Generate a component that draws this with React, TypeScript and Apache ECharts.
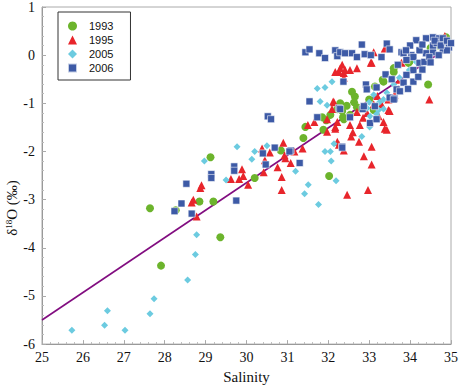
import React, { useEffect, useRef } from "react";
import * as echarts from "echarts";

const xTicks = [25, 26, 27, 28, 29, 30, 31, 32, 33, 34, 35];
const yTicks = [-6, -5, -4, -3, -2, -1, 0, 1];

const s1993: number[][] = [
  [27.64, -3.18], [28.27, -3.22], [28.85, -3.04], [29.19, -3.04], [29.36, -3.78], [27.91, -4.37],
  [29.12, -2.12], [30.2, -2.55], [30.84, -1.98], [31.39, -1.72], [31.44, -1.49], [31.88, -1.55],
  [31.85, -1.29], [32.05, -1.24], [32.29, -1.0], [32.02, -2.51], [32.38, -1.33], [32.58, -0.76],
  [32.65, -0.86], [32.34, -1.16], [32.22, -1.12], [32.63, -0.98], [32.7, -1.08], [32.53, -1.24],
  [32.36, -1.29], [33.0, -0.92], [33.14, -0.65], [33.96, -0.16], [33.35, -0.55], [33.6, -0.35],
  [34.44, -0.61], [33.11, -1.14], [34.88, 0.37], [34.83, 0.33], [33.33, -0.51], [33.6, -0.27],
  [33.98, -0.14], [32.45, -1.05], [31.95, -1.35], [34.9, 0.3], [34.7, 0.2], [34.5, 0.15],
];

const s1995: number[][] = [
  [28.87, -2.76], [28.9, -2.7], [28.66, -3.06], [28.7, -3.0], [28.78, -3.35], [29.62, -2.57],
  [29.82, -2.57], [29.89, -2.37], [29.92, -2.51], [30.04, -2.69], [30.42, -2.43], [30.45, -2.18],
  [30.38, -1.94], [30.57, -2.02], [30.76, -2.33], [30.86, -2.53], [30.86, -2.8], [30.9, -1.82],
  [30.93, -2.08], [30.95, -2.14], [31.08, -2.24], [31.17, -2.0], [31.37, -1.94], [31.66, -1.39],
  [31.97, -1.33], [32.09, -1.12], [32.22, -1.39], [32.14, -0.98], [32.17, -1.49], [32.26, -0.35],
  [32.38, -0.37], [32.29, -0.27], [32.26, -1.86], [32.46, -2.9], [31.97, -1.59], [32.22, -1.8],
  [32.38, -1.98], [32.56, -1.69], [32.75, -1.8], [33.06, -1.9], [32.87, -2.1], [33.06, -2.27],
  [32.97, -2.8], [33.43, -1.55], [33.11, 0.06], [32.34, -0.2], [32.41, -0.31], [32.7, -0.27],
  [33.06, -0.16], [33.38, 0.14], [34.47, -0.92], [33.47, -1.14], [33.35, -1.39], [33.38, -1.53],
  [33.04, -0.16], [33.79, -0.16], [33.5, -1.16], [33.72, -0.71], [33.74, -0.51], [33.62, -0.82],
  [33.47, -0.92], [33.23, -1.27], [33.11, -1.02], [33.3, -1.02], [32.17, -0.35], [32.53, -0.31],
  [32.38, -0.47], [32.12, -0.96], [31.5, -1.45], [32.77, -1.45], [32.7, -1.18], [32.53, -1.45],
  [32.6, -1.6], [32.85, -1.3], [33.2, -0.85], [32.95, -1.2], [32.17, -1.53], [34.85, 0.4],
];

const s2005: number[][] = [
  [25.73, -5.71], [26.53, -5.61], [26.6, -5.31], [27.03, -5.71], [27.64, -5.37], [27.74, -5.06],
  [28.56, -4.67], [28.75, -4.14], [28.78, -3.73], [28.97, -2.2], [29.5, -2.59], [29.77, -1.9],
  [30.13, -2.16], [30.2, -2.0], [30.5, -1.88], [31.2, -2.41], [31.51, -2.69], [31.42, -2.88],
  [31.76, -3.1], [31.73, -0.69], [31.92, -0.67], [31.8, -0.96], [31.97, -1.04], [32.09, -0.55],
  [31.92, -2.0], [32.05, -2.0], [32.07, -2.2], [32.19, -2.61], [32.14, -1.84], [32.82, -1.69],
  [33.0, -0.98], [33.23, -1.14], [33.18, -1.22], [33.35, -1.12], [33.01, -1.49], [33.11, -0.82],
  [33.25, -0.98], [33.02, -1.27], [33.43, -0.78], [33.6, -0.61], [33.74, -0.47], [33.98, -0.31],
  [34.15, -0.14], [33.35, -0.92], [32.95, -1.1],
];

const s2006: number[][] = [
  [31.44, 0.06], [31.54, 0.12], [31.78, 0.04], [31.92, -0.06], [32.17, 0.1], [32.22, -0.02],
  [32.29, 0.06], [32.41, 0.04], [32.58, 0.04], [32.7, -0.04], [32.82, 0.22], [32.89, 0.02],
  [33.04, 0.0], [33.3, -0.04], [33.43, 0.24], [33.5, 0.12], [33.79, 0.06], [34.03, 0.0],
  [32.37, -0.55], [32.92, -0.61], [32.94, -0.71], [33.18, -0.67], [31.54, -0.96], [32.26, -1.1],
  [32.84, -1.12], [32.53, -1.29], [31.73, -1.29], [30.52, -1.27], [30.6, -1.33], [33.02, -1.41],
  [32.87, -1.06], [33.5, -0.88], [33.62, -0.9], [32.29, -1.12], [32.34, -1.9], [31.08, -1.98],
  [31.3, -2.24], [30.69, -1.92], [30.4, -2.04], [30.47, -2.27], [31.05, -2.0], [29.7, -2.31],
  [29.7, -2.4], [29.14, -2.47], [29.14, -2.55], [28.53, -2.67], [28.41, -3.08], [28.24, -3.24],
  [28.66, -3.29], [29.75, -3.02], [32.34, -1.92],
  [33.84, 0.04], [34.15, 0.31], [34.39, 0.35], [34.56, 0.37], [34.71, 0.35], [34.88, 0.27],
  [34.95, 0.16], [34.8, 0.1], [34.56, 0.06], [34.39, 0.04], [34.23, 0.1], [34.08, -0.04],
  [34.23, -0.16], [34.08, -0.31], [33.91, -0.41], [33.84, -0.57], [33.67, -0.71], [33.6, -0.92],
  [33.14, -1.06], [33.18, -1.33], [34.35, -0.14], [34.56, 0.2], [34.47, -0.04], [33.91, -0.1],
  [34.08, -0.55], [33.75, -0.75], [33.95, -0.7], [34.0, 0.2], [34.3, 0.22], [34.65, 0.25],
  [34.8, 0.35], [34.9, 0.1], [34.7, 0.0], [34.5, -0.15], [34.3, -0.3], [34.2, -0.45],
  [33.9, 0.1], [33.7, -0.2], [33.4, -0.4], [33.55, -0.5], [34.6, 0.3], [34.75, 0.2],
  [34.9, 0.3], [35.0, 0.25],
];

const fitLine: number[][] = [[25, -5.5], [35, 0.2]];

const GREEN = "#6cb42c";
const RED = "#e8252b";
const CYAN = "#6ccbe0";
const BLUE = "#3d5aa6";

export default function App() {
  const ref = useRef<HTMLDivElement>(null);
  useEffect(() => {
    const chart = echarts.init(ref.current!, null, { renderer: "svg" });
    const serif = "Times New Roman";
    chart.setOption({
      animation: false,
      backgroundColor: "#fff",
      textStyle: { fontFamily: serif },
      grid: { left: 42, top: 6, width: 413, height: 343, show: true, borderColor: "#aaa", borderWidth: 1 },
      xAxis: {
        type: "value", min: xTicks[0], max: xTicks[xTicks.length - 1], interval: 1,
        name: "Salinity", nameLocation: "middle", nameGap: 22,
        nameTextStyle: { fontFamily: serif, fontSize: 15, color: "#111" },
        axisLine: { show: true, onZero: false, lineStyle: { color: "#999" } },
        axisTick: { show: true, inside: true, length: 4, lineStyle: { color: "#aaa" } },
        minorTick: { show: true, splitNumber: 5, length: 2, lineStyle: { color: "#bbb" } },
        splitLine: { show: false },
        axisLabel: { fontFamily: serif, fontSize: 14, color: "#111", margin: 6 },
      },
      yAxis: {
        type: "value", min: yTicks[0], max: yTicks[yTicks.length - 1], interval: 1,
        axisLine: { show: true, onZero: false, lineStyle: { color: "#999" } },
        axisTick: { show: true, inside: true, length: 4, lineStyle: { color: "#aaa" } },
        minorTick: { show: true, splitNumber: 5, length: 2, lineStyle: { color: "#bbb" } },
        splitLine: { show: false },
        axisLabel: { fontFamily: serif, fontSize: 14, color: "#111", margin: 7 },
      },
      legend: {
        orient: "vertical", left: 58, top: 12,
        borderColor: "#333", borderWidth: 1, backgroundColor: "#fff",
        padding: [7, 17, 5, 9], itemGap: 0, itemWidth: 9, itemHeight: 9,
        textStyle: { fontFamily: "Liberation Sans", fontSize: 11, color: "#111", lineHeight: 14, padding: [0, 0, 0, 7] },
        data: [
          { name: "1993", icon: "circle" },
          { name: "1995", icon: "triangle" },
          { name: "2005", icon: "diamond" },
          { name: "2006", icon: "rect" },
        ],
      },
      graphic: [
        {
          type: "text", x: 12, y: 208, rotation: Math.PI / 2,
          style: {
            text: "δ{sup|18}O (‰)", fill: "#111", fontFamily: serif, fontSize: 15,
            align: "center", verticalAlign: "middle",
            rich: { sup: { fontSize: 9, verticalAlign: "top", fontFamily: serif, padding: [0, 0, 6, 0] } },
          },
        },
      ],
      series: [
        {
          type: "line", data: fitLine, symbol: "none", silent: true, z: 1,
          lineStyle: { color: "#820d80", width: 1.6 },
        },
        {
          name: "1993", type: "scatter", data: s1993, symbol: "circle", symbolSize: 8, z: 2,
          itemStyle: { color: GREEN, opacity: 1 },
        },
        {
          name: "1995", type: "scatter", data: s1995, symbol: "triangle", symbolSize: 8, z: 3,
          itemStyle: { color: RED, opacity: 1 },
        },
        {
          name: "2005", type: "scatter", data: s2005, symbol: "diamond", symbolSize: 7, z: 4,
          itemStyle: { color: CYAN, opacity: 1 },
        },
        {
          name: "2006", type: "scatter", data: s2006, symbol: "rect", symbolSize: 7, z: 5,
          itemStyle: { color: BLUE, opacity: 1, borderColor: "rgba(255,255,255,0.7)", borderWidth: 0.8 },
        },
      ],
    });
    return () => chart.dispose();
  }, []);
  return <div ref={ref} style={{ width: 461, height: 389, position: "absolute", left: 0, top: 0 }} />;
}
